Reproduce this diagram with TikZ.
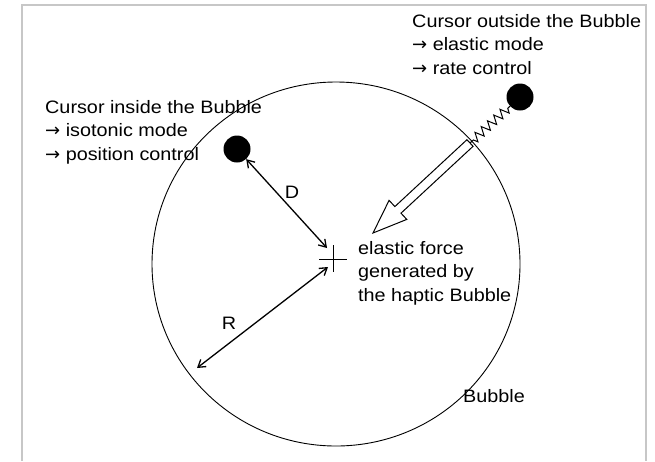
\documentclass[tikz,border=0pt]{standalone}
\usepackage{fontspec}
\setmainfont{Liberation Sans}[FakeStretch=1.1]
\newfontfamily\arrfont{DejaVu Sans}
\newcommand{\ra}{{\arrfont →}}
\usetikzlibrary{arrows.meta,calc,positioning,shapes.geometric,decorations.pathmorphing}

\begin{document}
\begin{tikzpicture}[x=1pt,y=-1pt,>={Straight Barb[length=7pt,width=9pt]},
  lbl/.style={inner sep=0pt,align=left,font=\fontsize{18}{23.5}\selectfont},
  cursordot/.style={circle,fill=black,minimum size=27pt,inner sep=0pt},
  dim/.style={<->,line width=1.3pt}]
  \useasboundingbox (0,0) rectangle (655,461);
  \draw[black!22,line width=1.5pt] (22,461) -- (22,5) -- (646,5) -- (646,461);
  \node[draw,ellipse,line width=0.9pt,minimum width=368pt,minimum height=364pt] (bubble) at (336,264) {};
  \node[lbl,anchor=base west] (bl) at (463,402) {Bubble};
  % cursors
  \node[cursordot] (indot) at (237,149) {};
  \node[cursordot] (outdot) at (520,97) {};
  \node[lbl,anchor=north west] (intxt) at (45,100) {Cursor inside the Bubble\\
  \ra{} isotonic mode\\
  \ra{} position control};
  \node[lbl,anchor=north west] (outtxt) at (412,14) {Cursor outside the Bubble\\
  \ra{} elastic mode\\
  \ra{} rate control};
  % centre of the bubble
  \coordinate (ctr) at (333,259);
  \draw[line width=0.9pt] ($(ctr)+(-14,0)$) -- ($(ctr)+(14,0)$);
  \draw[line width=0.9pt] ($(ctr)+(0,-14)$) -- ($(ctr)+(0,13)$);
  \coordinate (dtip) at (327,248);
  \coordinate (rtop) at (328,267);
  \coordinate (rend) at (197,368);
  \draw[dim] (indot) -- node[lbl,pos=0.47,above right=2pt and 0pt] {D} (dtip);
  \draw[dim] (rtop) -- node[lbl,pos=0.68,above left=6pt and 2pt] {R} (rend);
  % spring and force arrow
  \coordinate (entry) at (470,143);
  \coordinate (ftip) at (373,233);
  \draw[line width=1pt,decorate,decoration={zigzag,segment length=8.5pt,amplitude=4.5pt,pre length=3pt,post length=3pt}] (outdot) -- (entry);
  \coordinate (hb) at ($(ftip)!34pt!(entry)$);
  \draw[line width=1pt,line join=miter]
    ($(entry)!4.5pt!90:(ftip)$) -- ($(hb)!4.5pt!90:(ftip)$) -- ($(hb)!13pt!90:(ftip)$)
    -- (ftip) -- ($(hb)!13pt!-90:(ftip)$) -- ($(hb)!4.5pt!-90:(ftip)$)
    -- ($(entry)!4.5pt!-90:(ftip)$) -- cycle;
  \node[lbl,anchor=north west] (ftxt) at (358,241) {elastic force\\
  generated by\\
  the haptic Bubble};
\end{tikzpicture}
\end{document}
